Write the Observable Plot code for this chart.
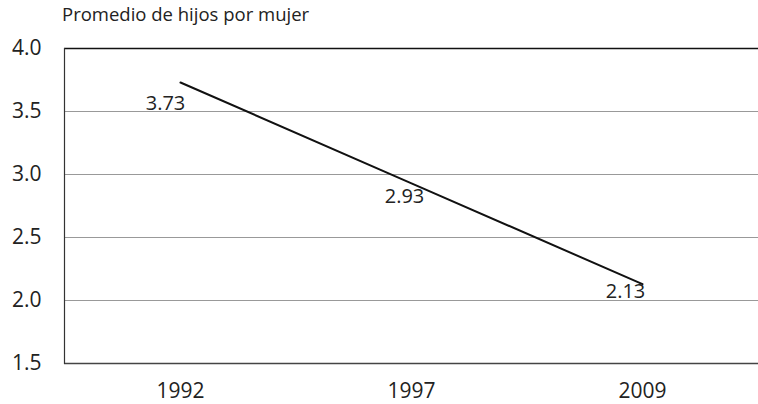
<!DOCTYPE html>
<html>
<head>
<meta charset="utf-8">
<script src="https://cdn.jsdelivr.net/npm/d3@7"></script>
<script src="https://cdn.jsdelivr.net/npm/@observablehq/plot@0.6"></script>
<style>
  body { margin: 0; background: #fff; }
  #title { position: relative; height: 36px; }
  #title span { position: absolute; left: 62px; top: 4px; font: 18.5px "Open Sans", sans-serif; line-height: 1.1; color: #222; }
  svg { display: block; }
</style>
</head>
<body>
<div id="title"><span>Promedio de hijos por mujer</span></div>
<div id="chart"></div>
<script>
const years = ["1992", "1997", "2009"];
const values = [3.73, 2.93, 2.13];
const labels = ["3.73", "2.93", "2.13"];
const yTicks = [1.5, 2.0, 2.5, 3.0, 3.5, 4.0];

const data = years.map((y, i) => ({year: y, value: values[i], label: labels[i]}));
const font = "'Open Sans', sans-serif";

const labelOffsets = [[-15, 21], [-7, 13], [-17, 7]];

const chart = Plot.plot({
  width: 758,
  height: 368,
  marginTop: 12,
  marginBottom: 41,
  marginLeft: 64,
  marginRight: 0,
  style: {fontFamily: font, fontSize: "21px", color: "#222", background: "#fff", overflow: "visible"},
  x: {type: "point", domain: years, padding: 0.5, label: null, tickSize: 0, tickPadding: 20},
  y: {domain: [1.5, 4.0], ticks: yTicks, tickFormat: d3.format(".1f"), label: null, tickSize: 0, tickPadding: 23},
  marks: [
    Plot.ruleY(yTicks.filter(d => d > 1.5 && d < 4.0), {stroke: "#999", strokeWidth: 1}),
    Plot.ruleY([4.0], {stroke: "#111", strokeWidth: 1.5}),
    Plot.ruleY([1.5], {stroke: "#444", strokeWidth: 1.5}),
    Plot.frame({anchor: "left", stroke: "#333", strokeWidth: 1.2}),
    Plot.line(data, {x: "year", y: "value", stroke: "#111", strokeWidth: 2}),
    ...labelOffsets.map(([dx, dy], i) =>
      Plot.text([data[i]], {x: "year", y: "value", text: "label", dx, dy, fill: "#222", fontSize: 20})
    )
  ]
});
document.getElementById("chart").append(chart);
</script>
</body>
</html>
